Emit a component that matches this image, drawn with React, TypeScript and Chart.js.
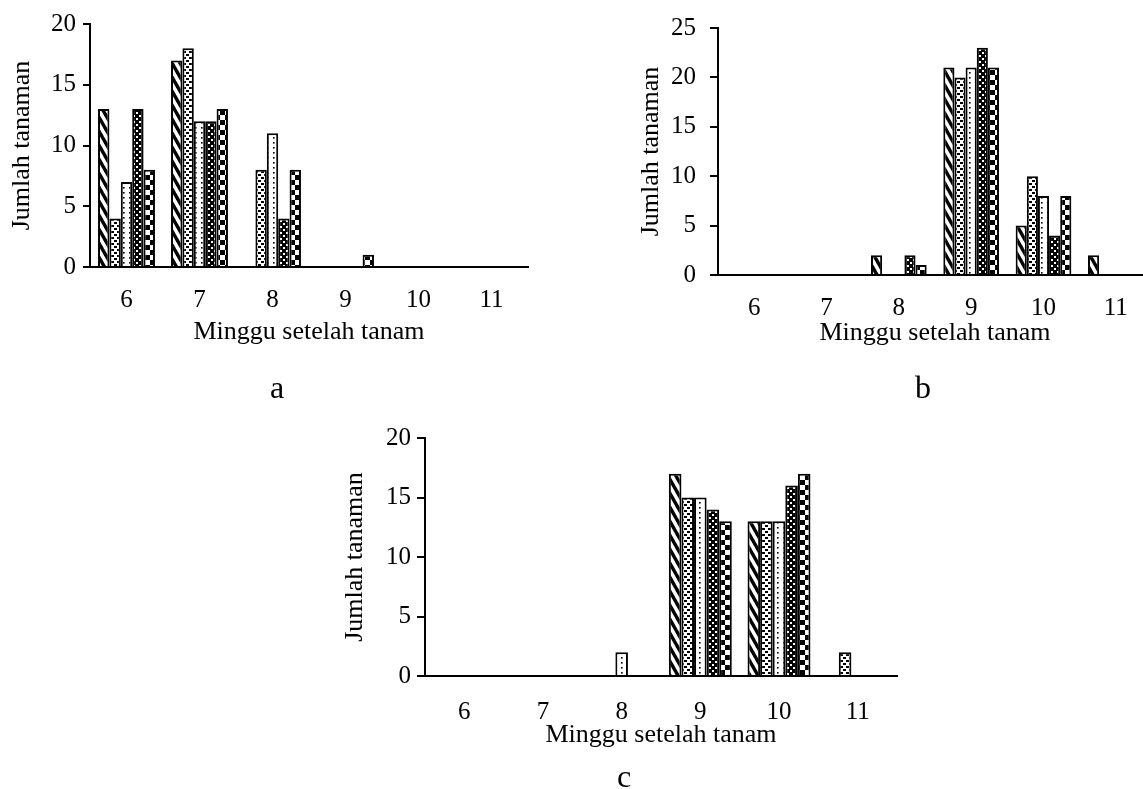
import React, { useEffect, useRef } from 'react';
import { Chart, registerables } from 'chart.js';

Chart.register(...registerables);

// ---------- data ----------
const categories = ['6', '7', '8', '9', '10', '11'];
const xAxisTitle = 'Minggu setelah tanam';
const yAxisTitle = 'Jumlah tanaman';

// panel a
const aSeries1 = [13, 17, 0, 0, 0, 0];
const aSeries2 = [4, 18, 8, 0, 0, 0];
const aSeries3 = [7, 12, 11, 0, 0, 0];
const aSeries4 = [13, 12, 4, 0, 0, 0];
const aSeries5 = [8, 13, 8, 1, 0, 0];

// panel b
const bSeries1 = [0, 0, 2, 21, 5, 2];
const bSeries2 = [0, 0, 0, 20, 10, 0];
const bSeries3 = [0, 0, 0, 21, 8, 0];
const bSeries4 = [0, 0, 2, 23, 4, 0];
const bSeries5 = [0, 0, 1, 21, 8, 0];

// panel c
const cSeries1 = [0, 0, 0, 17, 13, 0];
const cSeries2 = [0, 0, 0, 15, 13, 2];
const cSeries3 = [0, 0, 2, 15, 13, 0];
const cSeries4 = [0, 0, 0, 14, 16, 0];
const cSeries5 = [0, 0, 0, 13, 17, 0];

const yMaxA = 20;
const yMaxB = 25;
const yMaxC = 20;
const yStep = 5;

const FONT = "'Liberation Serif', 'Times New Roman', serif";

// ---------- patterns ----------
function makeTile(
  w: number,
  h: number,
  draw: (g: CanvasRenderingContext2D, w: number, h: number) => void,
  ctx: CanvasRenderingContext2D
): CanvasPattern {
  const c = document.createElement('canvas');
  c.width = w;
  c.height = h;
  const g = c.getContext('2d') as CanvasRenderingContext2D;
  draw(g, w, h);
  return ctx.createPattern(c, 'repeat') as CanvasPattern;
}

function makePatterns(ctx: CanvasRenderingContext2D): CanvasPattern[] {
  const diag = makeTile(8, 14, (g, w, h) => {
    g.fillStyle = '#fff';
    g.fillRect(0, 0, w, h);
    g.strokeStyle = '#000';
    g.lineWidth = 3.4;
    for (const x0 of [-w, 0, w]) {
      g.beginPath();
      g.moveTo(x0 - w, -h);
      g.lineTo(x0 + 2 * w, 2 * h);
      g.stroke();
    }
  }, ctx);
  const dots = makeTile(6, 6, (g, w, h) => {
    g.fillStyle = '#fff';
    g.fillRect(0, 0, w, h);
    g.fillStyle = '#000';
    g.fillRect(0, 0, 3, 2);
    g.fillRect(3, 3, 3, 2);
  }, ctx);
  const sparse = makeTile(6, 5, (g, w, h) => {
    g.fillStyle = '#fff';
    g.fillRect(0, 0, w, h);
    g.fillStyle = '#000';
    g.fillRect(3, 2, 1.6, 1.6);
  }, ctx);
  const dark = makeTile(6, 6, (g, w, h) => {
    g.fillStyle = '#000';
    g.fillRect(0, 0, w, h);
    g.fillStyle = '#fff';
    g.fillRect(1, 1, 2, 2);
    g.fillRect(4, 4, 2, 2);
  }, ctx);
  const checker = makeTile(10, 10, (g, w, h) => {
    g.fillStyle = '#fff';
    g.fillRect(0, 0, w, h);
    g.fillStyle = '#000';
    g.fillRect(0, 0, 5, 5);
    g.fillRect(5, 5, 5, 5);
  }, ctx);
  return [diag, dots, sparse, dark, checker];
}

// ---------- caption plugin ----------
const captionPlugin = {
  id: 'caption',
  afterDraw(chart: any, _args: any, opts: any) {
    if (!opts || !opts.text) return;
    const ctx = chart.ctx as CanvasRenderingContext2D;
    ctx.save();
    ctx.font = `${opts.size}px ${FONT}`;
    ctx.fillStyle = '#000';
    ctx.textAlign = 'center';
    ctx.textBaseline = 'alphabetic';
    ctx.fillText(opts.text, opts.x, opts.y);
    ctx.restore();
  },
};

type PanelSpec = {
  left: number;
  top: number;
  w: number;
  h: number;
  series: number[][];
  yMax: number;
  caption: string;
  captionX: number;
  captionY: number;
  areaL: number; // chart area, canvas coordinates
  areaT: number;
  areaR: number;
  areaB: number;
  xScaleH: number;
  yTitlePad: number;
  xTickPad: number;
  yTickLen: number;
  yTickPad: number;
  catPct: number;
};

function Panel({ spec }: { spec: PanelSpec }) {
  const ref = useRef<HTMLCanvasElement | null>(null);
  useEffect(() => {
    const canvas = ref.current;
    if (!canvas) return;
    const ctx = canvas.getContext('2d') as CanvasRenderingContext2D;
    const patterns = makePatterns(ctx);
    const padBottom = spec.h - spec.areaB - spec.xScaleH;
    const chart = new Chart(canvas, {
      type: 'bar',
      data: {
        labels: categories,
        datasets: spec.series.map((vals, i) => ({
          label: `S${i + 1}`,
          data: vals,
          backgroundColor: patterns[i] as any,
          borderColor: '#000',
          borderWidth: 2,
          barPercentage: 1,
          categoryPercentage: spec.catPct,
        })),
      },
      options: {
        responsive: false,
        animation: false,
        devicePixelRatio: 1,
        layout: {
          padding: {
            left: 0,
            top: spec.areaT,
            right: spec.w - spec.areaR,
            bottom: padBottom,
          },
        },
        plugins: {
          legend: { display: false },
          tooltip: { enabled: false },
          title: { display: false },
          caption: {
            text: spec.caption,
            x: spec.captionX,
            y: spec.captionY,
            size: 32,
          },
        } as any,
        scales: {
          x: {
            grid: { display: false, drawTicks: false },
            border: { display: true, color: '#000', width: 2 },
            ticks: {
              color: '#000',
              font: { family: FONT, size: 25 },
              padding: spec.xTickPad,
              maxRotation: 0,
              autoSkip: false,
            },
            title: {
              display: true,
              text: xAxisTitle,
              color: '#000',
              font: { family: FONT, size: 26 },
              padding: { top: 0, bottom: 0 },
            },
            afterFit: (s: any) => {
              s.height = spec.xScaleH;
              s.paddingLeft = 0;
              s.paddingRight = 0;
            },
          },
          y: {
            min: 0,
            max: spec.yMax,
            ticks: {
              stepSize: yStep,
              color: '#000',
              font: { family: FONT, size: 25 },
              padding: spec.yTickPad,
            },
            grid: {
              drawOnChartArea: false,
              drawTicks: true,
              tickLength: spec.yTickLen,
              color: '#000',
              lineWidth: 2,
            },
            border: { display: true, color: '#000', width: 2 },
            title: {
              display: true,
              text: yAxisTitle,
              color: '#000',
              font: { family: FONT, size: 26 },
              padding: { top: spec.yTitlePad, bottom: 0 },
            },
            afterFit: (s: any) => {
              s.width = spec.areaL;
              s.paddingTop = 0;
              s.paddingBottom = 0;
            },
          },
        },
      } as any,
      plugins: [captionPlugin as any],
    });
    return () => chart.destroy();
  }, []);
  return (
    <canvas
      ref={ref}
      width={spec.w}
      height={spec.h}
      style={{
        position: 'absolute',
        left: spec.left,
        top: spec.top,
        width: spec.w,
        height: spec.h,
      }}
    />
  );
}

const panelA: PanelSpec = {
  left: 0,
  top: 0,
  w: 560,
  h: 410,
  series: [aSeries1, aSeries2, aSeries3, aSeries4, aSeries5],
  yMax: yMaxA,
  caption: 'a',
  captionX: 277,
  captionY: 398,
  areaL: 90,
  areaT: 24,
  areaR: 528,
  areaB: 267,
  xScaleH: 81,
  yTitlePad: 7,
  xTickPad: 18,
  yTickLen: 7,
  yTickPad: 7,
  catPct: 0.78,
};

const panelB: PanelSpec = {
  left: 600,
  top: 0,
  w: 560,
  h: 410,
  series: [bSeries1, bSeries2, bSeries3, bSeries4, bSeries5],
  yMax: yMaxB,
  caption: 'b',
  captionX: 323,
  captionY: 398,
  areaL: 118,
  areaT: 28,
  areaR: 552,
  areaB: 275,
  xScaleH: 74,
  yTitlePad: 36,
  xTickPad: 18,
  yTickLen: 8,
  yTickPad: 14,
  catPct: 0.77,
};

const panelC: PanelSpec = {
  left: 300,
  top: 420,
  w: 620,
  h: 369,
  series: [cSeries1, cSeries2, cSeries3, cSeries4, cSeries5],
  yMax: yMaxC,
  caption: 'c',
  captionX: 324,
  captionY: 367,
  areaL: 125,
  areaT: 18,
  areaR: 597,
  areaB: 256,
  xScaleH: 75,
  yTitlePad: 40,
  xTickPad: 21,
  yTickLen: 8,
  yTickPad: 6,
  catPct: 0.8,
};

export default function App() {
  return (
    <div
      style={{
        position: 'fixed',
        left: 0,
        top: 0,
        width: 1143,
        height: 789,
        overflow: 'hidden',
        background: '#fff',
      }}
    >
      <Panel spec={panelA} />
      <Panel spec={panelB} />
      <Panel spec={panelC} />
    </div>
  );
}
